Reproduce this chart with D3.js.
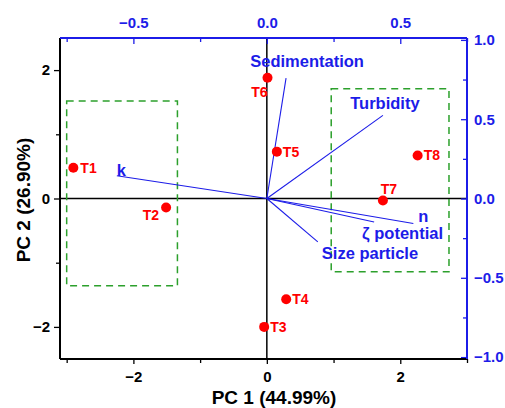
<!DOCTYPE html>
<html><head><meta charset="utf-8">
<script src="https://cdn.jsdelivr.net/npm/d3@7"></script>
<style>
html,body{margin:0;padding:0;background:#fff;}
svg{display:block;font-family:"Liberation Sans",Arial,sans-serif;font-weight:bold;}
</style></head>
<body><svg id="c" width="505" height="408"></svg>
<script>
// ---- data ----
const sampleNames = ["T1","T2","T3","T4","T5","T6","T7","T8"];
const pc1Scores = [-2.90,-1.51,-0.04,0.29,0.15,0.01,1.74,2.26];
const pc2Scores = [0.48,-0.14,-2.00,-1.57,0.73,1.88,-0.03,0.67];

const variableNames = ["Sedimentation","Turbidity","k","n","ζ potential","Size particle"];
const loading1 = [0.072,0.435,-0.562,0.549,0.402,0.191];
const loading2 = [0.759,0.524,0.143,-0.158,-0.148,-0.274];

// group boxes (score coordinates)
const boxX0 = [-3.00,0.965];
const boxX1 = [-1.34,2.73];
const boxY0 = [-1.36,-1.14];
const boxY1 = [1.52,1.71];

const bottomTicks = [-2,0,2];
const bottomMinor = [-3,-1,1,3];
const leftTicks = [-2,0,2];
const leftMinor = [-1,1];
const topTicks = [-0.5,0.0,0.5];
const topMinor = [-0.75,-0.25,0.25,0.75];
const rightTicks = [-1.0,-0.5,0.0,0.5,1.0];
const rightMinor = [-0.75,-0.25,0.25,0.75];

const xTitle = "PC 1 (44.99%)";
const yTitle = "PC 2 (26.90%)";

// ---- layout ----
const L=60,R=467,T=38,B=359;
const BLUE="#1c1ce8", RED="#ff0000", GREEN="#2ca02c";
const svg=d3.select("#c");
const x=d3.scaleLinear().domain([-3.1,3.0]).range([L,R]);
const y=d3.scaleLinear().domain([-2.5,2.5]).range([B,T]);
const xt=d3.scaleLinear().domain([-0.775,0.75]).range([L,R]);
const yr=d3.scaleLinear().domain([-1.012,1.012]).range([B,T]);
const fmt=d=>d3.format(".0f")(d).replace("-","−");
const fmt1=d=>d3.format(".1f")(d).replace("-","−");

// zero lines
svg.append("line").attr("x1",L).attr("x2",R).attr("y1",y(0)).attr("y2",y(0)).attr("stroke","#000").attr("stroke-width",1.5);
svg.append("line").attr("x1",x(0)).attr("x2",x(0)).attr("y1",T).attr("y2",B).attr("stroke","#000").attr("stroke-width",1.5);

// boxes
svg.selectAll("rect.box").data(boxX0).join("rect").attr("class","box")
 .attr("x",(d,i)=>x(boxX0[i])).attr("width",(d,i)=>x(boxX1[i])-x(boxX0[i]))
 .attr("y",(d,i)=>y(boxY1[i])).attr("height",(d,i)=>y(boxY0[i])-y(boxY1[i]))
 .attr("fill","none").attr("stroke",GREEN).attr("stroke-width",1.5).attr("stroke-dasharray","7,5");

// axes
function styleAxis(g,color){
  g.select(".domain").remove();
  g.selectAll("line").attr("stroke",color).attr("stroke-width",1.3);
  g.selectAll("text").attr("fill",color).attr("font-size",15).attr("font-weight","bold").attr("font-family","Liberation Sans, Arial, sans-serif");
}
const gb=svg.append("g").attr("transform",`translate(0,${B})`);
gb.call(d3.axisBottom(x).tickValues(bottomTicks).tickFormat(fmt).tickSize(5).tickPadding(7)); styleAxis(gb,"#000");
gb.append("g").call(d3.axisBottom(x).tickValues(bottomMinor).tickFormat("").tickSize(4)).call(g=>styleAxis(g,"#000"));
const gl=svg.append("g").attr("transform",`translate(${L},0)`);
gl.call(d3.axisLeft(y).tickValues(leftTicks).tickFormat(fmt).tickSize(6).tickPadding(4)); styleAxis(gl,"#000");
gl.append("g").call(d3.axisLeft(y).tickValues(leftMinor).tickFormat("").tickSize(4)).call(g=>styleAxis(g,"#000"));
const gt=svg.append("g").attr("transform",`translate(0,${T})`);
gt.call(d3.axisTop(xt).tickValues(topTicks).tickFormat(fmt1).tickSizeInner(-6).tickSizeOuter(0).tickPadding(10)); styleAxis(gt,BLUE);
gt.append("g").call(d3.axisTop(xt).tickValues(topMinor).tickFormat("").tickSizeInner(-4).tickSizeOuter(0)).call(g=>styleAxis(g,BLUE));
const gr=svg.append("g").attr("transform",`translate(${R},0)`);
gr.call(d3.axisRight(yr).tickValues(rightTicks).tickFormat(fmt1).tickSizeInner(-6).tickSizeOuter(0).tickPadding(7)); styleAxis(gr,BLUE);
gr.append("g").call(d3.axisRight(yr).tickValues(rightMinor).tickFormat("").tickSizeInner(-4).tickSizeOuter(0)).call(g=>styleAxis(g,BLUE));

// frame
svg.append("line").attr("x1",L).attr("x2",L).attr("y1",T).attr("y2",B).attr("stroke","#000").attr("stroke-width",2);
svg.append("line").attr("x1",L).attr("x2",R).attr("y1",B).attr("y2",B).attr("stroke","#000").attr("stroke-width",2);
svg.append("line").attr("x1",L).attr("x2",R).attr("y1",T).attr("y2",T).attr("stroke",BLUE).attr("stroke-width",2);
svg.append("line").attr("x1",R).attr("x2",R).attr("y1",T).attr("y2",B).attr("stroke",BLUE).attr("stroke-width",2);

// vectors
const vecOff={"Sedimentation":[21,-17,"middle"],"Turbidity":[2,-12,"middle"],"k":[0,-6,"start"],"n":[5,-8,"start"],"ζ potential":[-12,11,"start"],"Size particle":[4,11,"start"]};
const vg=svg.append("g");
variableNames.forEach((nm,i)=>{
  const ex=xt(loading1[i]), ey=yr(loading2[i]);
  vg.append("line").attr("x1",xt(0)).attr("y1",yr(0)).attr("x2",ex).attr("y2",ey).attr("stroke",BLUE).attr("stroke-width",1.1);
  const o=vecOff[nm];
  vg.append("text").attr("x",ex+o[0]).attr("y",ey+o[1]).attr("text-anchor",o[2]).attr("dominant-baseline","central")
    .attr("fill",BLUE).attr("font-size",16.5).text(nm);
});

// points
const ptOff={"T1":[7,0,"start"],"T2":[-7,8,"end"],"T3":[6,0,"start"],"T4":[6,0,"start"],"T5":[6,0,"start"],"T6":[0,14,"end"],"T7":[6,-11,"middle"],"T8":[6,0,"start"]};
const pg=svg.append("g");
sampleNames.forEach((nm,i)=>{
  const px=x(pc1Scores[i]), py=y(pc2Scores[i]);
  pg.append("circle").attr("cx",px).attr("cy",py).attr("r",5).attr("fill",RED);
  const o=ptOff[nm];
  pg.append("text").attr("x",px+o[0]).attr("y",py+o[1]).attr("text-anchor",o[2]).attr("dominant-baseline","central")
    .attr("fill",RED).attr("font-size",14).text(nm);
});

// titles
svg.append("text").attr("x",274).attr("y",404).attr("text-anchor","middle").attr("font-size",19).attr("fill","#000").text(xTitle);
svg.append("text").attr("transform","translate(30,200) rotate(-90)").attr("text-anchor","middle").attr("font-size",19).attr("fill","#000").text(yTitle);
</script></body></html>
